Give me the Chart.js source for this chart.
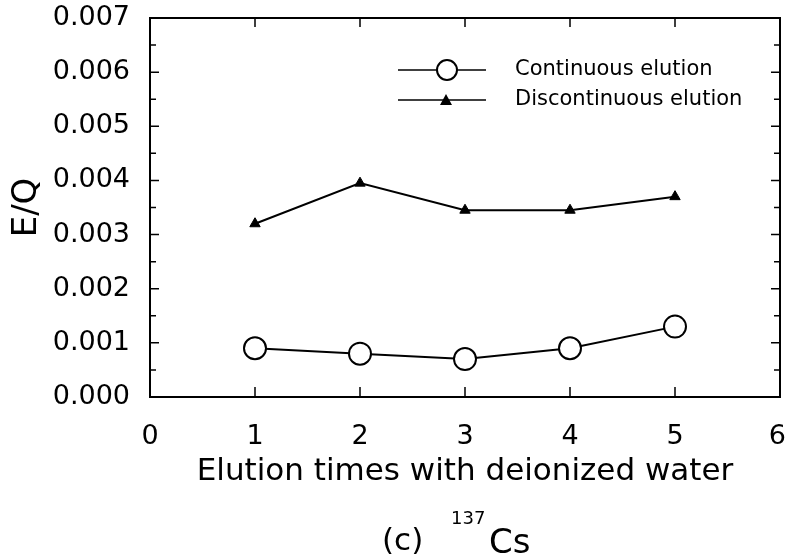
<!DOCTYPE html>
<html>
<head>
<meta charset="utf-8">
<script src="https://cdn.jsdelivr.net/npm/chart.js@4/dist/chart.umd.min.js"></script>
<style>
  html, body { margin: 0; padding: 0; background: #fff; }
  #wrap { width: 786px; height: 557px; }
</style>
</head>
<body>
<div id="wrap"><canvas id="eq-chart" width="786" height="557"></canvas></div>
<script>
var elutionTimes = [1, 2, 3, 4, 5];
var continuousEQ = [0.0009, 0.0008, 0.0007, 0.0009, 0.0013];
var discontinuousEQ = [0.0032, 0.00395, 0.00345, 0.00345, 0.0037];
var seriesNames = ["Continuous elution", "Discontinuous elution"];
var yTicks = [0, 0.001, 0.002, 0.003, 0.004, 0.005, 0.006, 0.007];
var xTicks = [0, 1, 2, 3, 4, 5, 6];

var FONT = "'DejaVu Sans', sans-serif";

function toPoints(xs, ys) {
    return xs.map(function (x, i) { return { x: x, y: ys[i] }; });
}

// frame, inward ticks, legend and caption
var decorations = {
    id: "decorations",
    afterDraw: function (chart) {
        var ctx = chart.ctx;
        var a = chart.chartArea;
        var xs = chart.scales.x, ys = chart.scales.y;
        ctx.save();
        ctx.strokeStyle = "#000";
        ctx.lineWidth = 2;
        ctx.beginPath();
        ctx.moveTo(a.left, a.top); ctx.lineTo(a.right, a.top); ctx.lineTo(a.right, a.bottom);
        ctx.stroke();

        ctx.lineWidth = 1.5;
        ctx.beginPath();
        for (var v = 0; v <= 14; v++) {
            var py = ys.getPixelForValue(v * 0.0005);
            var len = v % 2 === 0 ? 9 : 6;
            ctx.moveTo(a.left, py); ctx.lineTo(a.left + len, py);
            ctx.moveTo(a.right, py); ctx.lineTo(a.right - len, py);
        }
        xTicks.forEach(function (t) {
            var px = xs.getPixelForValue(t);
            ctx.moveTo(px, a.bottom); ctx.lineTo(px, a.bottom - 10);
            ctx.moveTo(px, a.top); ctx.lineTo(px, a.top + 9);
        });
        ctx.stroke();

        // legend
        var rows = [70, 100];
        ctx.font = "21px " + FONT;
        ctx.textBaseline = "middle";
        ctx.fillStyle = "#000";
        rows.forEach(function (ry, i) {
            ctx.lineWidth = 1.5;
            ctx.beginPath(); ctx.moveTo(398, ry); ctx.lineTo(486, ry); ctx.stroke();
            if (i === 0) {
                ctx.beginPath(); ctx.arc(447, ry, 10, 0, Math.PI * 2);
                ctx.fillStyle = "#fff"; ctx.fill();
                ctx.lineWidth = 2; ctx.stroke();
            } else {
                ctx.beginPath();
                ctx.moveTo(446, ry - 6); ctx.lineTo(452, ry + 5); ctx.lineTo(440, ry + 5);
                ctx.closePath(); ctx.fillStyle = "#000"; ctx.fill();
            }
            ctx.fillStyle = "#000";
            ctx.fillText(seriesNames[i], 515, ry);
        });

        // caption
        ctx.textBaseline = "alphabetic";
        ctx.font = "31px " + FONT;
        ctx.fillText("(c)", 382, 550);
        ctx.font = "18px " + FONT;
        ctx.fillText("137", 451, 524);
        ctx.font = "34px " + FONT;
        ctx.fillText("Cs", 489, 553);
        ctx.restore();
    }
};

document.addEventListener("DOMContentLoaded", function () {
    var ctx = document.getElementById("eq-chart").getContext("2d");
    new Chart(ctx, {
        type: "line",
        data: {
            datasets: [
                {
                    label: seriesNames[0],
                    data: toPoints(elutionTimes, continuousEQ),
                    borderColor: "#000",
                    borderWidth: 2,
                    pointStyle: "circle",
                    pointRadius: 11,
                    pointBackgroundColor: "#fff",
                    pointBorderColor: "#000",
                    pointBorderWidth: 2,
                },
                {
                    label: seriesNames[1],
                    data: toPoints(elutionTimes, discontinuousEQ),
                    borderColor: "#000",
                    borderWidth: 2,
                    pointStyle: "triangle",
                    pointRadius: 6,
                    pointBackgroundColor: "#000",
                    pointBorderColor: "#000",
                    pointBorderWidth: 1,
                },
            ],
        },
        options: {
            responsive: false,
            animation: false,
            layout: { autoPadding: false, padding: { top: 18, right: 6, left: 0, bottom: 0 } },
            plugins: { legend: { display: false }, tooltip: { enabled: false } },
            scales: {
                x: {
                    type: "linear",
                    min: 0,
                    max: 6,
                    afterFit: function (s) { s.height = 160; s.paddingLeft = 0; s.paddingRight = 0; },
                    afterBuildTicks: function (s) { s.ticks = xTicks.map(function (v) { return { value: v }; }); },
                    grid: { display: false },
                    border: { display: true, color: "#000", width: 2 },
                    ticks: {
                        padding: 16,
                        color: "#000",
                        font: { family: FONT, size: 27 },
                        // nudge the last label a little so it stays inside the canvas
                        callback: function (v) { return v === 6 ? "6\u2009" : String(v); },
                    },
                    title: {
                        display: true,
                        text: "Elution times with deionized water",
                        color: "#000",
                        font: { family: FONT, size: 31 },
                        padding: { top: 0, bottom: 66 },
                    },
                },
                y: {
                    min: 0,
                    max: 0.007,
                    afterFit: function (s) { s.width = 150; s.paddingTop = 0; s.paddingBottom = 0; },
                    afterBuildTicks: function (s) { s.ticks = yTicks.map(function (v) { return { value: v }; }); },
                    grid: { display: false },
                    border: { display: true, color: "#000", width: 2 },
                    ticks: {
                        padding: 12,
                        color: "#000",
                        font: { family: FONT, size: 27 },
                        callback: function (v) { return Number(v).toFixed(3); },
                    },
                    title: {
                        display: true,
                        text: "E/Q",
                        color: "#000",
                        font: { family: FONT, size: 34 },
                        padding: { top: 7, bottom: 0 },
                    },
                },
            },
        },
        plugins: [decorations],
    });
});
</script>
</body>
</html>
